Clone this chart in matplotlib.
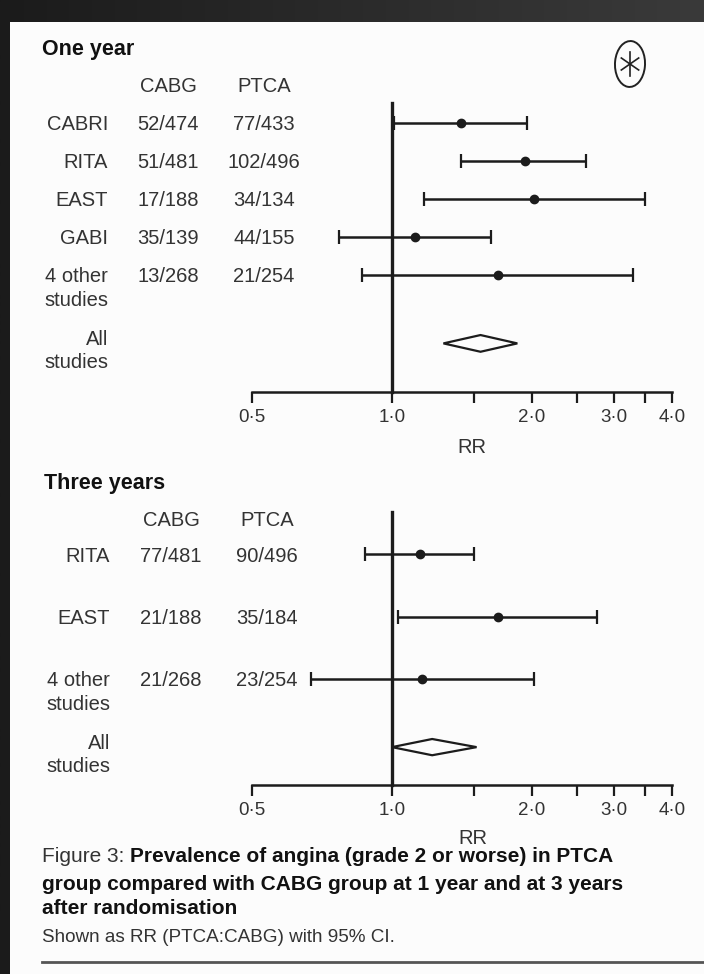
import matplotlib
matplotlib.use("Agg")
import matplotlib.pyplot as plt
import matplotlib.transforms as mtransforms
import numpy as np
from matplotlib.patches import Ellipse, Polygon, Rectangle
from matplotlib.ticker import NullFormatter

W, H = 704, 974

# ---- data ---------------------------------------------------------------
studies_1y = ["CABRI", "RITA", "EAST", "GABI", "4 other\nstudies"]
cabg_1y = ["52/474", "51/481", "17/188", "35/139", "13/268"]
ptca_1y = ["77/433", "102/496", "34/134", "44/155", "21/254"]
rr_1y = [1.41, 1.93, 2.02, 1.12, 1.69]
lo_1y = [1.01, 1.41, 1.17, 0.77, 0.86]
hi_1y = [1.95, 2.61, 3.50, 1.63, 3.30]
pooled_1y = [1.29, 1.55, 1.86]  # lo, est, hi

studies_3y = ["RITA", "EAST", "4 other\nstudies"]
cabg_3y = ["77/481", "21/188", "21/268"]
ptca_3y = ["90/496", "35/184", "23/254"]
rr_3y = [1.15, 1.69, 1.16]
lo_3y = [0.875, 1.03, 0.67]
hi_3y = [1.50, 2.76, 2.02]
pooled_3y = [1.00, 1.22, 1.52]

tick_vals = [0.5, 1.0, 2.0, 3.0, 4.0]
tick_labels = ["0·5", "1·0", "2·0", "3·0", "4·0"]
minor_vals = [1.5, 2.5, 3.5]

BODY = ["Liberation Sans", "DejaVu Sans"]
INK = "#1c1c1c"
GREY = "#333333"
FS = 14.5
LINE_PX = 23  # spacing of wrapped label lines

plt.rcParams["font.family"] = BODY


def fx(px):
    return px / W


def fy(py):
    return 1 - py / H


def label_lines(ax, tr, x, y, text, step_px):
    # one text per line so the first line sits on the row
    for k, line in enumerate(text.split("\n")):
        ax.text(x, y + k * LINE_PX / step_px, line, transform=tr, ha="right",
                va="center_baseline", fontsize=FS, color=GREY)


def draw_panel(fig, top_px, axis_px, first_px, step_px, line_top_px,
               studies, cabg, ptca, rr, lo, hi, pooled, pooled_row,
               col_x, diamond_h):
    ax = fig.add_axes([fx(252), fy(axis_px), fx(672) - fx(252),
                       (axis_px - top_px) / H])
    ax.set_xscale("log", base=2)
    ax.set_xlim(0.5, 4.0)
    ax.set_ylim((axis_px - first_px) / step_px, (top_px - first_px) / step_px)
    ax.patch.set_alpha(0)
    for s in ("left", "top", "right"):
        ax.spines[s].set_visible(False)
    ax.spines["bottom"].set_linewidth(1.8)
    ax.spines["bottom"].set_color(INK)
    ax.set_yticks([])
    ax.set_xticks(tick_vals)
    ax.set_xticklabels(tick_labels)
    ax.set_xticks(minor_vals, minor=True)
    ax.xaxis.set_minor_formatter(NullFormatter())
    ax.tick_params(axis="x", which="both", direction="out", length=8,
                   width=1.6, color=INK, labelsize=13.5, labelcolor=GREY,
                   pad=4)

    # line of no effect
    ax.plot([1, 1], [(line_top_px - first_px) / step_px, ax.get_ylim()[0]],
            color=INK, lw=2.4, clip_on=False)

    rows = np.arange(len(studies))
    rr = np.array(rr)
    ax.errorbar(rr, rows, xerr=[rr - np.array(lo), np.array(hi) - rr],
                fmt="o", color=INK, ms=6, capsize=5, elinewidth=1.8,
                capthick=1.6, clip_on=False)

    plo, pest, phi = pooled
    d = Polygon([[plo, pooled_row], [pest, pooled_row - diamond_h],
                 [phi, pooled_row], [pest, pooled_row + diamond_h]],
                closed=True, fill=False, edgecolor=INK, lw=1.6)
    ax.add_patch(d)

    tr = mtransforms.blended_transform_factory(fig.transFigure, ax.transData)
    for r, (name, c, p) in enumerate(zip(studies, cabg, ptca)):
        label_lines(ax, tr, fx(col_x[0]), r, name, step_px)
        ax.text(fx(col_x[1]), r, c, transform=tr, ha="center",
                va="center_baseline", fontsize=FS, color=GREY)
        ax.text(fx(col_x[2]), r, p, transform=tr, ha="center",
                va="center_baseline", fontsize=FS, color=GREY)
    label_lines(ax, tr, fx(col_x[0]), pooled_row - 6 / step_px,
                "All\nstudies", step_px)
    return ax


fig = plt.figure(figsize=(W / 100, H / 100), dpi=100)

# scanned page: dark border round a white sheet
bg = fig.add_axes([0, 0, 1, 1], zorder=-5)
grad = np.linspace(0, 1, 256)[None, :]
bg.imshow(grad, aspect="auto", cmap=matplotlib.colors.LinearSegmentedColormap
          .from_list("scan", ["#1b1b1b", "#3a3a3a"]), extent=[0, 1, 0, 1])
bg.set_axis_off()
fig.add_artist(Rectangle((fx(10), 0), 1 - fx(10), fy(22), transform=fig.transFigure,
                         facecolor="#fcfcfc", edgecolor="none", zorder=-4))

# panel titles and column headers
fig.text(fx(42), fy(50), "One year", weight="bold", fontsize=15.5,
         va="center", color="#111111")
fig.text(fx(168), fy(87), "CABG", fontsize=FS, ha="center", va="center",
         color=GREY)
fig.text(fx(264), fy(87), "PTCA", fontsize=FS, ha="center", va="center",
         color=GREY)

fig.text(fx(44), fy(483), "Three years", weight="bold", fontsize=15.5,
         va="center", color="#111111")
fig.text(fx(171), fy(520), "CABG", fontsize=FS, ha="center", va="center",
         color=GREY)
fig.text(fx(267), fy(520), "PTCA", fontsize=FS, ha="center", va="center",
         color=GREY)

draw_panel(fig, 95, 392, 123, 38, 103, studies_1y, cabg_1y, ptca_1y,
           rr_1y, lo_1y, hi_1y, pooled_1y, 5.8, (108, 168, 264), 0.22)
draw_panel(fig, 505, 785, 554, 62.5, 512, studies_3y, cabg_3y, ptca_3y,
           rr_3y, lo_3y, hi_3y, pooled_3y, 3.09, (110, 171, 267), 0.13)

fig.text(fx(472), fy(448), "RR", fontsize=FS, ha="center", va="center",
         color=GREY)
fig.text(fx(473), fy(838), "RR", fontsize=FS, ha="center", va="center",
         color=GREY)

# handwritten mark at top right: circled asterisk
cx, cy = 630, 64
fig.add_artist(Ellipse((fx(cx), fy(cy)), 30 / W, 46 / H,
                       transform=fig.transFigure, fill=False,
                       edgecolor="#222222", lw=1.4, angle=-8))
for ang in (90, 30, 150):
    dx = 10 * np.cos(np.radians(ang))
    dy = 12 * np.sin(np.radians(ang))
    fig.add_artist(plt.Line2D([fx(cx - dx), fx(cx + dx)],
                              [fy(cy - dy), fy(cy + dy)],
                              transform=fig.transFigure, color="#222222",
                              lw=1.2))

# caption
CAP = 15
renderer = fig.canvas.get_renderer()
t0 = fig.text(fx(42), fy(857), "Figure 3: ", fontsize=CAP, va="center",
              color=GREY)
bb = t0.get_window_extent(renderer)
fig.text(bb.x1 / W, fy(857), "Prevalence of angina (grade 2 or worse) in PTCA",
         weight="bold", fontsize=CAP, va="center", color="#111111")
fig.text(fx(42), fy(884),
         "group compared with CABG group at 1 year and at 3 years",
         weight="bold", fontsize=CAP, va="center", color="#111111")
fig.text(fx(42), fy(909), "after randomisation", weight="bold",
         fontsize=CAP, va="center", color="#111111")
fig.text(fx(42), fy(937), "Shown as RR (PTCA:CABG) with 95% CI.",
         fontsize=13.6, va="center", color=GREY)

fig.add_artist(plt.Line2D([fx(42), 1], [fy(962), fy(962)],
                          transform=fig.transFigure, color="#555555", lw=2))

fig.savefig("out.png", dpi=100)
